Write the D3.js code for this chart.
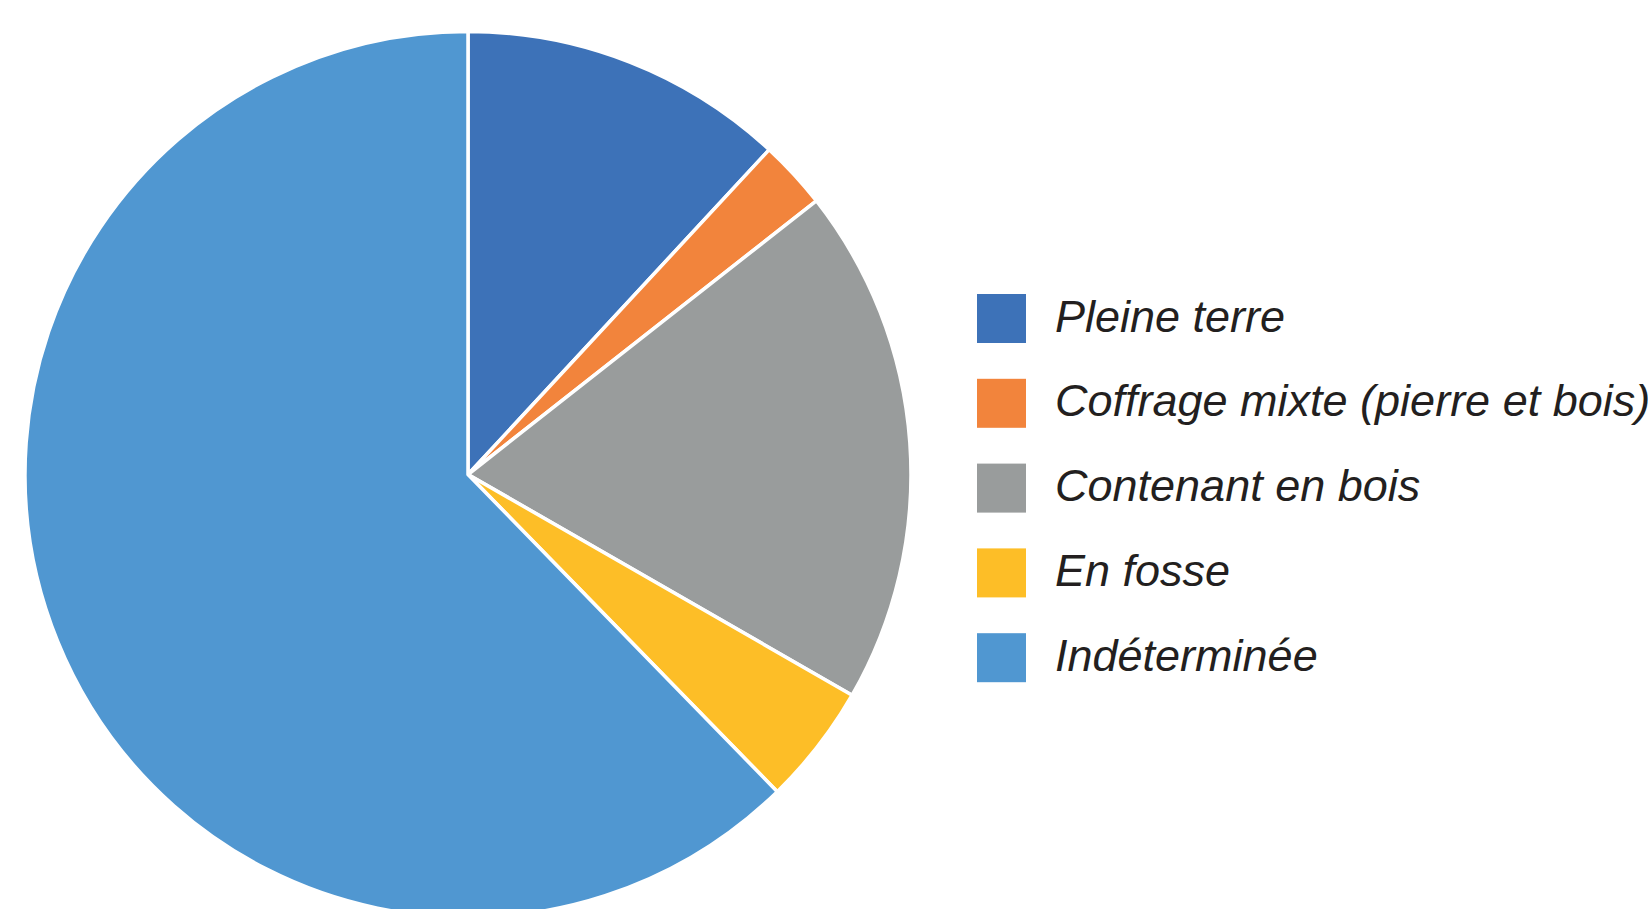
<!DOCTYPE html>
<html>
<head>
<meta charset="utf-8">
<script src="https://cdn.jsdelivr.net/npm/d3@7"></script>
<style>
  body { margin: 0; background: #fff; }
  svg { display: block; }
  .legend text { font-family: "Liberation Sans", Arial, sans-serif; font-style: italic; fill: #231f20; }
</style>
</head>
<body>
<div id="chart"></div>
<script>
// chart data (share of burials, %)
var categories = ["Pleine terre", "Coffrage mixte (pierre et bois)", "Contenant en bois", "En fosse", "Indéterminée"];
var values = [11.9, 2.5, 18.9, 4.4, 62.3];
var colors = ["#3d72b8", "#f2843c", "#999c9c", "#fdbe27", "#5097d1"];

var width = 1648, height = 909;
var cx = 468, cy = 474.5, radius = 443;

var svg = d3.select("#chart")
  .append("svg")
  .attr("width", width)
  .attr("height", height);

var color = d3.scaleOrdinal().domain(categories).range(colors);

var pie = d3.pie().sort(null).value(function (d) { return d.value; });
var arc = d3.arc().innerRadius(0).outerRadius(radius);

var data = categories.map(function (c, i) { return { name: c, value: values[i] }; });

// slices
svg.append("g")
  .attr("transform", "translate(" + cx + "," + cy + ")")
  .selectAll("path")
  .data(pie(data))
  .enter().append("path")
  .attr("d", arc)
  .attr("fill", function (d) { return color(d.data.name); })
  .attr("stroke", "#fff")
  .attr("stroke-width", 3.5)
  .attr("stroke-linejoin", "round");

// legend
var itemSize = 49, itemStep = 84.8, lx = 977, ly = 294;
var legend = svg.append("g").attr("class", "legend")
  .selectAll("g")
  .data(categories)
  .enter().append("g")
  .attr("transform", function (d, i) { return "translate(" + lx + "," + (ly + itemStep * i) + ")"; });

legend.append("rect")
  .attr("width", itemSize)
  .attr("height", itemSize)
  .attr("fill", function (d) { return color(d); });

legend.append("text")
  .attr("x", 78)
  .attr("y", itemSize / 2 + 13)
  .style("font-size", "45px")
  .text(function (d) { return d; });
</script>
</body>
</html>
